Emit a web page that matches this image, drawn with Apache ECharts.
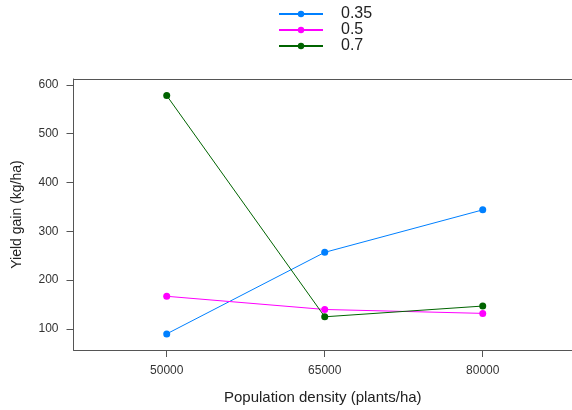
<!DOCTYPE html>
<html>
<head>
<meta charset="utf-8">
<script src="https://cdn.jsdelivr.net/npm/echarts@6/dist/echarts.min.js"></script>
<style>
  html, body { margin: 0; padding: 0; background: #fff; }
  #main { width: 572px; height: 410px; }
</style>
</head>
<body>
<div id="main"></div>
<script>
var densities = ['50000', '65000', '80000'];
var groups = ['0.35', '0.5', '0.7'];
var gain035 = [90, 257, 344];
var gain05 = [167, 140, 132];
var gain07 = [578, 125, 147];
var yTicks = [100, 200, 300, 400, 500, 600];
var colors = ['#0080ff', '#ff00ff', '#006400'];

var chartDom = document.getElementById('main');
var chart = echarts.init(chartDom, null, { renderer: 'canvas' });

function toPairs(vals) {
  // x positions 1..n, like lattice factor levels
  return vals.map(function (v, i) { return [i + 1, v]; });
}

var allSeries = [gain035, gain05, gain07].map(function (vals, k) {
  return {
    name: groups[k],
    type: 'line',
    data: toPairs(vals),
    symbol: 'circle',
    symbolSize: 7,
    color: colors[k],
    lineStyle: { width: 1, color: colors[k] },
    itemStyle: { color: colors[k] },
    animation: false
  };
});

var option = {
  backgroundColor: '#fff',
  textStyle: { fontFamily: 'Arial, "Liberation Sans", sans-serif' },
  legend: {
    orient: 'vertical',
    left: 273,
    top: 1,
    itemWidth: 44,
    itemHeight: 8,
    itemGap: 0,
    textStyle: { fontSize: 16, lineHeight: 15, color: '#222', padding: [0, 0, 0, 13] },
    data: groups
  },
  grid: {
    left: 73.5,
    top: 79,
    right: 0,
    height: 272,
    show: false
  },
  xAxis: [{
    type: 'value',
    min: 0.41,
    max: 3.565,
    name: 'Population density (plants/ha)',
    nameLocation: 'middle',
    nameGap: 40,
    nameTextStyle: { fontSize: 15, color: '#222' },
    axisLine: { show: true, lineStyle: { color: '#555' } },
    axisTick: { show: true, length: 7, lineStyle: { color: '#555' }, customValues: [1, 2, 3] },
    axisLabel: {
      fontSize: 12, color: '#333', margin: 15,
      customValues: [1, 2, 3],
      formatter: function (v) { return densities[Math.round(v) - 1]; }
    },
    splitLine: { show: false }
  }, {
    type: 'value',
    position: 'top',
    min: 0.41,
    max: 3.565,
    axisLine: { show: true, lineStyle: { color: '#555' } },
    axisTick: { show: false },
    axisLabel: { show: false },
    splitLine: { show: false }
  }],
  yAxis: {
    type: 'value',
    min: 57,
    max: 612,
    name: 'Yield gain (kg/ha)',
    nameLocation: 'middle',
    nameGap: 49,
    nameTextStyle: { fontSize: 14, color: '#222' },
    axisLine: { show: true, lineStyle: { color: '#555' } },
    axisTick: { show: true, length: 7, lineStyle: { color: '#555' }, customValues: yTicks },
    axisLabel: { fontSize: 12, color: '#333', margin: 15, customValues: yTicks },
    splitLine: { show: false }
  },
  series: allSeries
};

chart.setOption(option);
window.addEventListener('resize', chart.resize);
</script>
</body>
</html>
